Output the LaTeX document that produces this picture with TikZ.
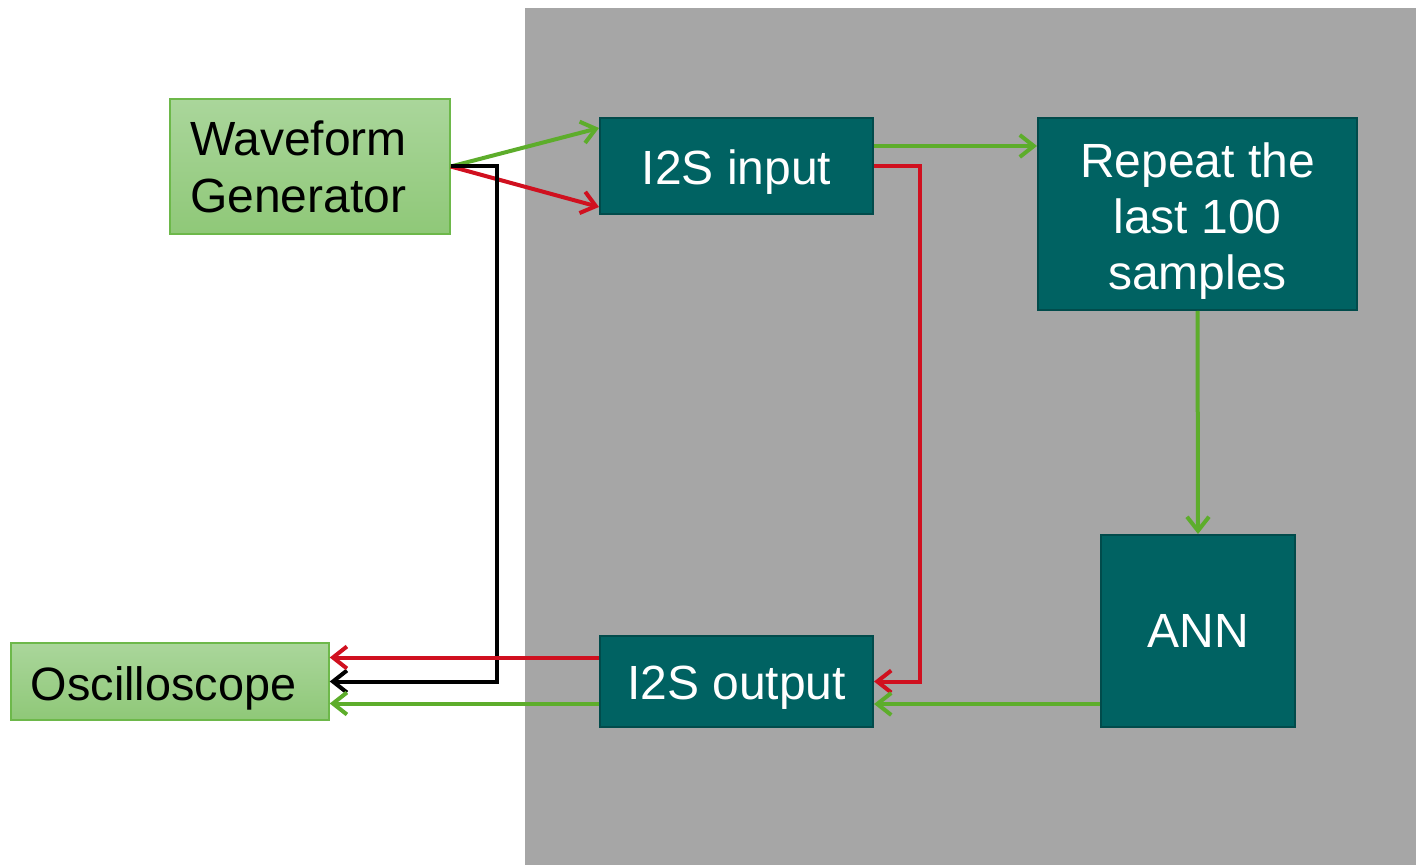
\documentclass[tikz,border=0pt]{standalone}
\usepackage{fontspec}
\setmainfont{Liberation Sans}
\usetikzlibrary{arrows.meta,positioning}
\definecolor{teal}{HTML}{006262}
\definecolor{tealdark}{HTML}{014B4B}
\definecolor{panel}{HTML}{A6A6A6}
\definecolor{sig}{HTML}{5DAD2B}
\definecolor{clk}{HTML}{D0101F}
\definecolor{gtop}{HTML}{AAD69B}
\definecolor{gbot}{HTML}{8FC878}
\definecolor{gline}{HTML}{6DB84A}
\begin{document}
\begin{tikzpicture}[x=0.5pt,y=-0.5pt,
 box/.style={draw=tealdark,fill=teal,line width=1pt,text=white,align=center,font=\fontsize{24}{28}\selectfont,inner sep=0pt},
 dev/.style={draw=gline,top color=gtop,bottom color=gbot,line width=0.7pt,font=\fontsize{24}{28.5}\selectfont,inner sep=0pt},
 wire/.style={line width=2pt,-{Straight Barb[length=7pt,width=11pt]}}]
\useasboundingbox (0,0) rectangle (1416,865);
\fill[panel] (525,8) rectangle (1416,865);
\node[dev,minimum width=140pt,minimum height=67.5pt,align=left,text width=120pt] (wg) at (310,166.5) {Waveform\\Generator};
\node[dev,minimum width=159pt,minimum height=38.5pt,text height=23.5pt,text depth=5pt,font=\fontsize{23.4}{28}\selectfont] (osc) at (170,681.5) {\hspace*{-6.5pt}Oscilloscope};
\node[box,minimum width=136.5pt,minimum height=48pt,text height=24pt,text depth=5pt] (in) at (736.5,166) {I2S input};
\node[box,minimum width=159.5pt,minimum height=96pt,text height=81pt,text depth=5pt] (rep) at (1197.5,214) {Repeat the\\last 100\\samples};
\node[box,minimum width=97pt,minimum height=96pt] (ann) at (1198,631) {ANN};
\node[box,minimum width=136.5pt,minimum height=45.5pt,text height=23pt,text depth=5pt] (out) at (736.5,681.5) {I2S output};
% from the generator
\coordinate (bk) at (497,0);
\coordinate (rd) at (920,0);
\draw[wire,sig] (wg.east) -- ([yshift=19pt]in.west);
\draw[wire,clk] (wg.east) -- ([yshift=-20.5pt]in.west);
\draw[wire,black] (wg.east) -| (bk |- osc.east) -- (osc.east);
% processing chain
\coordinate (a1) at ([yshift=10pt]in.east);
\draw[wire,sig] (a1) -- (a1 -| rep.west);
\draw[wire,clk] (in.east) -| (rd |- out.east) -- (out.east);
\draw[wire,sig] (rep.south) -- (ann.north);
\coordinate (a2) at ([yshift=12pt]ann.south west);
\draw[wire,sig] (a2) -- (a2 -| out.east);
% to the scope
\coordinate (a3) at ([yshift=12pt]out.west);
\coordinate (a4) at ([yshift=-11pt]out.west);
\draw[wire,clk] (a3) -- (a3 -| osc.east);
\draw[wire,sig] (a4) -- (a4 -| osc.east);
\end{tikzpicture}
\end{document}
